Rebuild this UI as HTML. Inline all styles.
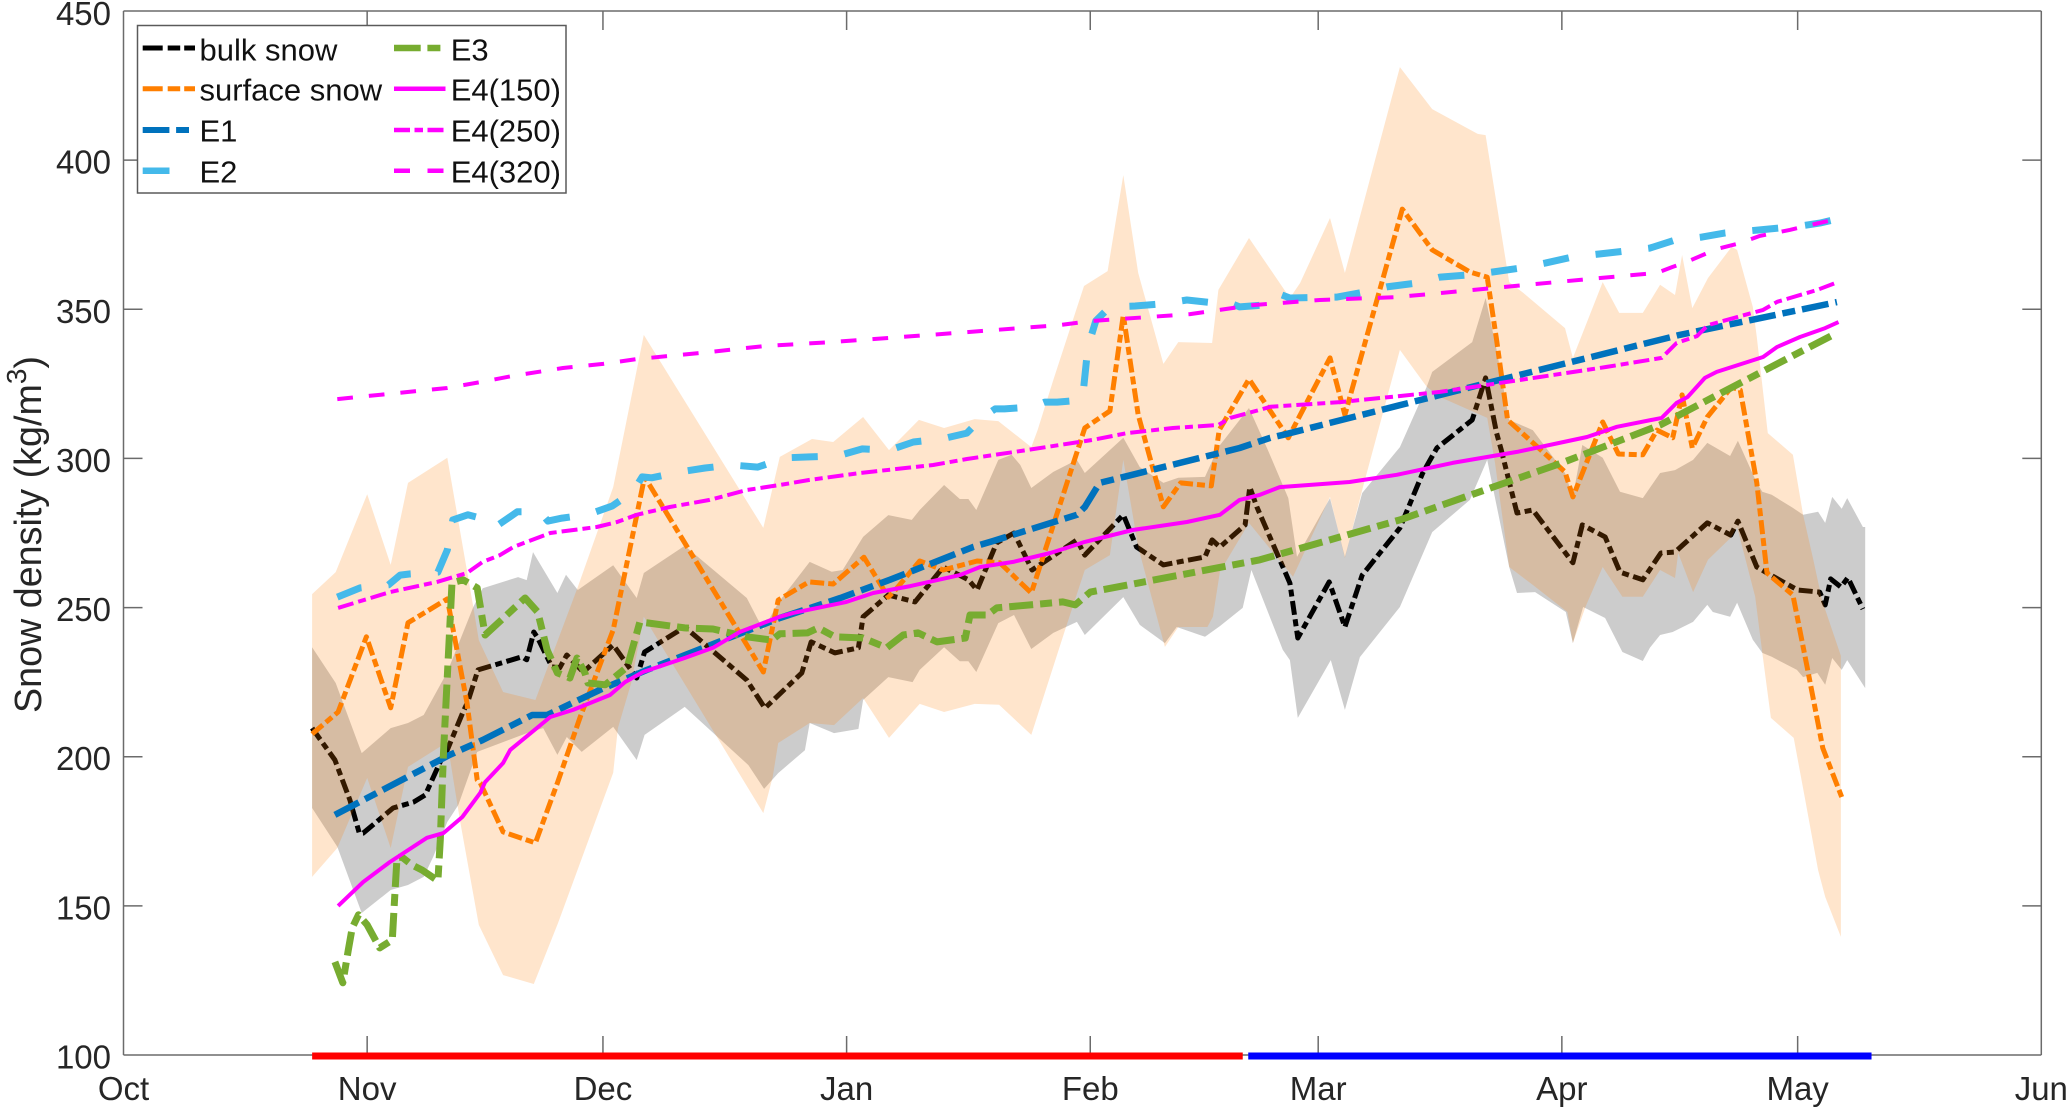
<!DOCTYPE html>
<html lang="en">
<head>
<meta charset="utf-8">
<title>Snow density chart</title>
<style>
html,body{margin:0;padding:0;background:#fff;}
svg{display:block;font-family:"Liberation Sans",Arial,sans-serif;}
</style>
</head>
<body>
<svg id="chart" xmlns="http://www.w3.org/2000/svg" width="2067" height="1109" viewBox="0 0 2067 1109">
  <rect x="0" y="0" width="2067" height="1109" fill="#ffffff"/>
  <g id="bands-lines"></g>
  <g id="axes"></g>
  <text transform="translate(41 713) rotate(-90)" font-size="37.7" fill="#262626">Snow density (kg/m<tspan font-size="28" dy="-15">3</tspan><tspan dy="15">)</tspan></text>
  <g>
    <rect x="137.5" y="25.5" width="428.5" height="167.5" fill="#ffffff" stroke="#5a5a5a" stroke-width="1.5"/>
    <g>
      <line x1="142.7" y1="48" x2="195" y2="48" stroke="#000000" stroke-width="5" stroke-dasharray="20 5 12.5 4 11"/>
      <text x="199.5" y="60.7" font-size="31" fill="#111">bulk snow</text>
    </g>
    <g>
      <line x1="142.7" y1="88.7" x2="195" y2="88.7" stroke="#ff7f00" stroke-width="5" stroke-dasharray="20 5 12.5 4 11"/>
      <text x="199.5" y="100.7" font-size="31" fill="#111">surface snow</text>
    </g>
    <g>
      <line x1="142.7" y1="130" x2="189" y2="130" stroke="#0072bd" stroke-width="6" stroke-dasharray="26.7 6.7 13"/>
      <text x="199.5" y="141.7" font-size="31" fill="#111">E1</text>
    </g>
    <g>
      <line x1="142.7" y1="170.7" x2="169.5" y2="170.7" stroke="#44b9ea" stroke-width="6.5"/>
      <text x="199.5" y="182.3" font-size="31" fill="#111">E2</text>
    </g>
    <g>
      <line x1="394" y1="48" x2="440.5" y2="48" stroke="#77ac30" stroke-width="6.5" stroke-dasharray="26.7 6.7 13"/>
      <text x="450.7" y="60.7" font-size="31" fill="#111">E3</text>
    </g>
    <g>
      <line x1="394" y1="88.7" x2="445.5" y2="88.7" stroke="#ff00ff" stroke-width="4.5"/>
      <text x="450.7" y="100.7" font-size="31" fill="#111">E4(150)</text>
    </g>
    <g>
      <line x1="394" y1="130" x2="444" y2="130" stroke="#ff00ff" stroke-width="4.5" stroke-dasharray="16 4.5 8.5 4.5 16"/>
      <text x="450.7" y="141.7" font-size="31" fill="#111">E4(250)</text>
    </g>
    <g>
      <line x1="394" y1="170.7" x2="444" y2="170.7" stroke="#ff00ff" stroke-width="4.5" stroke-dasharray="16 17.5 16"/>
      <text x="450.7" y="182.3" font-size="31" fill="#111">E4(320)</text>
    </g>
  </g>
</svg>
<script>
// Axis ticks (x values are days since 1 Oct; leap-year winter)
const yTicks = [100,150,200,250,300,350,400,450];
const xTickDays = [0,31,61,92,123,152,183,213,244];
const xTickLabels = ['Oct','Nov','Dec','Jan','Feb','Mar','Apr','May','Jun'];

// Period bars along the x axis [start day, end day]
const periodRedDays = [24.0,142.4];
const periodBlueDays = [143.1,222.4];

// Bulk snow spread (grey band)
const bulkUpperDays = [24.0,27.0,30.3,34.0,36.2,38.2,41.2,44.5,45.7,50.2,51.3,52.1,55.2,56.3,57.8,62.3,65.3,66.2,71.4,79.3,81.4,83.3,87.3,90.1,91.5,94.1,97.3,100.3,101.3,104.4,106.4,107.5,108.5,111.3,113.0,114.1,115.5,118.3,121.3,122.3,127.2,129.3,132.3,134.2,137.6,139.3,143.2,145.6,148.2,149.3,153.5,155.4,157.6,162.4,165.8,166.5,171.6,173.3,174.7,176.3,179.3,183.4,184.4,185.6,188.2,190.4,193.3,195.5,197.4,199.7,201.5,204.4,205.4,207.8,208.5,209.7,212.4,213.7,215.6,216.5,217.4,218.6,219.3,221.3,221.6];
const bulkUpperValues = [236.7,224.7,201.2,209.6,211.3,214.0,228.4,250.2,256.5,260.2,259.2,268.6,254.9,261.0,255.9,264.2,253.2,261.6,270.7,253.2,242.5,251.6,265.3,262.0,262.6,273.7,281.0,279.4,282.7,291.1,286.4,286.4,282.7,299.5,301.2,297.8,290.1,295.5,299.5,295.1,306.9,297.1,291.8,293.5,293.8,303.8,316.9,302.8,286.7,267.0,286.7,267.0,288.4,303.8,324.0,329.0,339.0,353.8,336.4,312.9,309.5,295.1,287.1,304.5,300.2,288.8,286.7,295.1,296.1,299.5,305.2,300.8,305.9,291.8,288.8,287.8,283.4,281.1,282.1,278.4,287.1,283.1,286.7,277.0,277.0];
const bulkLowerDays = [24.0,27.2,30.3,34.0,36.2,38.2,39.4,41.2,42.6,45.0,51.7,53.4,55.2,56.4,58.3,62.3,65.3,66.3,71.4,79.5,81.5,83.3,86.7,87.3,90.4,93.5,94.1,97.3,100.4,101.3,104.4,106.4,107.5,108.5,111.3,113.3,115.5,118.3,121.3,122.3,127.2,129.3,132.5,134.0,137.6,139.5,142.4,143.5,147.5,148.4,149.4,153.6,155.4,157.3,162.4,166.5,171.3,173.5,176.3,177.3,179.6,183.5,184.4,185.7,188.5,190.7,193.3,194.2,195.5,197.1,199.7,201.5,202.2,204.4,205.3,207.3,208.5,209.7,212.9,213.7,215.5,216.5,217.4,218.6,219.3,221.6];
const bulkLowerValues = [182.8,169.8,147.6,155.3,157.0,159.7,166.4,178.1,183.8,201.6,208.3,209.6,200.6,206.6,201.6,210.0,198.9,207.3,216.7,197.2,189.2,194.5,202.2,211.3,207.9,209.3,219.0,226.7,225.0,229.1,236.7,232.0,232.0,228.4,244.8,247.5,236.1,241.5,245.2,240.8,253.5,244.2,238.1,243.5,240.2,243.8,249.9,262.6,235.8,232.4,213.0,232.4,215.7,233.4,250.2,275.3,286.1,299.5,263.6,254.9,255.2,248.5,238.1,250.2,246.5,235.1,232.1,236.5,240.8,241.8,245.2,250.9,248.5,246.9,251.6,239.2,234.8,233.5,229.1,226.7,228.1,224.1,233.1,229.1,232.4,223.0];

// Surface snow spread (orange band)
const surfaceUpperDays = [24.0,27.0,31.0,34.0,36.2,41.2,44.5,45.2,48.3,52.4,57.8,62.3,66.2,81.4,83.5,87.6,90.3,94.1,97.4,101.2,104.4,108.3,111.3,115.5,116.3,118.3,122.2,125.2,127.2,129.1,132.3,134.2,138.5,139.3,143.2,148.4,149.7,153.5,155.4,162.4,166.5,172.3,173.3,176.3,178.1,183.4,184.4,188.2,190.3,193.3,195.5,197.4,198.3,199.6,201.6,204.6,205.3,207.3,207.8,209.2,212.4,213.7,215.0,216.1,218.5];
const surfaceUpperValues = [254.5,261.9,288.0,264.3,291.8,300.2,250.2,239.1,221.7,219.0,256.9,290.4,341.4,276.7,300.5,306.5,305.5,313.9,302.8,312.9,310.2,313.2,312.5,303.8,309.5,326.3,357.8,362.8,395.0,362.2,331.7,339.0,338.7,356.5,373.9,353.8,358.8,380.6,362.2,431.2,417.1,408.8,408.4,359.1,355.5,343.7,333.7,359.1,348.8,348.8,358.2,354.8,368.2,350.4,360.5,370.9,369.9,350.8,340.7,308.5,301.2,281.1,265.9,252.5,233.8];
const surfaceLowerDays = [24.0,27.2,31.0,34.0,36.2,41.2,42.8,45.2,48.3,52.2,55.3,62.3,62.9,64.6,66.2,81.4,82.6,83.3,87.3,90.4,94.1,97.4,101.3,104.4,108.3,111.4,115.5,119.8,122.3,125.5,127.2,129.1,132.5,134.2,137.9,138.6,139.5,143.2,148.8,153.5,155.4,157.6,162.4,165.8,167.5,173.5,174.5,176.3,179.3,183.7,184.4,186.0,188.2,190.7,193.3,195.5,197.4,197.8,199.7,201.6,204.6,205.3,207.6,208.5,209.6,212.5,213.9,215.6,216.5,218.5];
const surfaceLowerValues = [159.7,169.4,192.9,169.4,196.6,204.9,178.8,143.6,126.8,123.8,144.3,194.6,209.6,224.7,246.9,181.1,193.2,204.6,211.3,210.6,219.7,206.3,217.7,215.0,217.7,217.4,207.3,242.5,262.6,267.6,299.5,270.3,236.8,243.5,243.5,246.9,262.0,278.4,260.3,287.1,266.6,289.4,336.4,324.0,320.6,313.6,298.5,263.6,257.6,248.5,238.1,250.2,263.6,253.6,253.6,262.6,259.9,268.3,255.2,266.0,273.7,277.0,253.6,234.8,213.0,206.3,186.5,162.0,153.0,139.6];

// Observed series
const bulkDays = [24.0,26.9,28.8,30.0,30.5,34.3,36.9,38.4,40.7,41.2,43.2,43.8,45.1,50.7,51.3,52.2,52.7,54.5,55.5,56.4,58.5,62.3,65.3,66.3,71.4,79.3,81.6,86.3,87.5,90.5,93.5,94.1,97.3,100.7,104.3,107.5,108.6,111.1,113.3,115.6,121.3,122.3,127.2,128.9,132.3,137.6,138.5,139.5,142.7,143.3,144.2,148.4,149.4,153.4,155.4,157.6,162.4,165.3,167.1,171.6,173.3,174.7,175.3,177.3,179.3,184.4,185.6,188.5,190.4,193.3,195.6,197.4,198.4,201.5,204.5,205.4,207.8,209.1,213.0,215.8,216.5,217.2,218.5,219.4,221.3];
const bulkValues = [209.6,198.9,185.5,174.4,174.4,182.8,184.8,187.2,200.6,202.3,215.0,218.4,229.1,233.5,232.5,241.8,239.8,230.1,229.8,234.1,228.4,237.5,226.4,235.1,243.5,225.7,216.3,228.1,238.5,234.8,236.5,246.9,254.2,251.9,263.6,259.3,255.9,271.7,275.0,262.6,272.7,267.6,281.1,270.3,264.3,267.0,272.7,270.3,277.7,290.4,283.7,258.2,239.8,258.6,243.5,260.9,276.7,295.1,303.5,312.9,327.0,308.5,302.8,281.7,282.7,265.0,277.7,273.7,261.9,259.3,268.3,268.6,271.0,278.4,274.3,279.0,263.6,261.6,255.9,255.2,250.9,259.6,256.9,260.0,249.5];
const surfaceDays = [24.0,27.3,30.9,34.0,36.2,41.2,43.7,45.0,45.4,48.3,52.4,55.2,58.1,62.3,66.3,81.4,83.3,87.2,90.3,94.2,97.3,98.2,101.3,104.3,108.6,111.5,115.5,122.3,125.5,127.2,129.1,132.3,134.5,138.4,139.4,143.2,148.2,153.5,155.4,162.7,166.5,171.3,173.5,174.7,176.1,183.4,184.4,188.2,190.2,193.3,195.1,197.1,198.3,199.6,201.5,204.6,205.7,207.8,209.1,212.4,214.2,216.2,218.6];
const surfaceValues = [207.6,215.0,240.2,216.4,244.9,252.9,218.0,192.2,191.2,174.8,171.1,191.2,213.3,242.5,293.8,228.4,252.5,258.6,257.9,266.9,253.5,255.9,265.6,262.6,265.6,265.0,254.9,310.2,315.9,348.1,314.6,283.8,291.8,290.8,309.5,326.6,306.9,333.7,314.6,383.6,369.9,362.5,360.8,339.7,312.9,295.5,287.1,312.2,301.5,301.2,309.5,306.9,321.3,303.5,313.9,323.9,322.9,291.8,261.6,254.2,230.1,202.9,186.5];

// Model experiments
const e1Days = [26.9,41.5,45.7,52.0,53.9,60.6,66.6,83.5,91.2,97.5,108.1,110.6,121.3,122.3,124.2,142.0,145.9,147.5,173.5,198.0,218.0];
const e1Values = [180.5,200.6,205.6,214.0,214.0,222.4,229.1,246.5,253.2,259.3,270.3,272.3,281.1,283.7,291.8,303.5,306.9,307.9,325.3,341.4,352.4];
const e2Days = [27.2,30.1,33.7,35.2,36.5,40.0,41.2,41.9,43.8,45.4,47.3,50.1,53.0,54.0,55.8,59.0,62.2,64.8,66.0,67.2,70.8,74.0,77.4,80.7,84.2,87.3,90.8,94.0,97.5,100.5,104.1,107.3,109.2,110.9,112.1,115.7,117.2,118.8,122.0,122.7,123.7,125.5,128.7,132.1,135.3,138.9,140.1,142.0,144.9,146.1,147.4,148.4,154.4,157.9,160.7,164.6,167.5,171.1,174.2,177.7,180.9,184.3,187.6,191.0,194.2,197.4,200.8,203.8,208.2,213.3,215.8,218.1];
const e2Values = [253.5,256.6,257.6,260.9,261.3,261.9,269.3,279.4,281.1,280.0,277.0,282.1,282.1,279.0,280.0,281.1,284.1,288.8,293.8,293.5,295.5,296.8,297.8,297.1,300.2,300.5,300.8,303.2,302.8,305.5,306.5,308.5,313.6,316.6,316.6,317.3,318.9,318.9,319.6,337.4,346.1,350.8,351.1,351.8,353.1,352.1,352.8,350.8,351.4,354.8,354.8,353.8,354.1,355.8,357.5,358.8,360.8,361.5,362.5,363.8,365.5,367.5,368.5,369.5,370.5,373.2,374.2,375.6,376.6,377.9,378.9,380.3];
const e3Days = [26.9,27.9,28.6,29.1,29.9,31.0,32.6,34.2,34.5,34.8,35.4,36.7,38.0,40.0,40.3,40.7,41.8,43.2,45.0,46.0,51.1,52.7,53.9,55.2,56.8,57.7,58.7,59.1,61.3,64.1,65.7,71.4,75.0,79.3,82.5,83.5,87.0,88.4,90.5,94.1,97.1,99.2,101.1,103.5,107.1,107.7,109.9,111.1,119.5,121.1,123.0,144.6,162.4,183.0,195.5,205.7,218.0];
const e3Values = [131.2,124.2,135.2,142.6,147.0,143.6,135.9,138.6,153.0,166.1,166.4,163.7,162.0,158.4,172.1,200.6,258.3,259.3,256.6,240.8,253.2,248.5,235.8,228.1,226.4,233.1,228.1,224.7,224.1,230.1,245.2,243.2,242.8,240.2,239.1,241.2,241.5,243.2,240.2,239.8,236.5,240.8,241.5,238.5,239.8,247.5,247.5,249.9,251.9,250.9,255.2,266.0,279.4,298.5,311.2,325.3,342.1];
const e4a150Days = [27.3,30.5,33.9,38.6,40.7,43.1,45.4,46.0,48.3,49.2,54.3,57.2,61.9,63.8,66.1,71.4,75.0,78.4,83.5,85.2,92.0,95.4,100.1,106.4,109.0,113.2,117.9,120.0,122.3,128.4,135.3,139.5,142.0,144.6,147.1,156.0,162.0,169.1,177.3,186.2,190.0,195.7,197.6,199.0,201.2,202.7,208.6,210.4,213.3,216.5,218.2];
const e4a150Values = [150.0,158.0,164.7,172.8,174.4,179.8,187.9,191.5,197.9,202.3,213.3,215.7,220.7,225.0,228.4,233.1,236.5,241.8,246.9,248.2,251.9,254.9,257.2,260.9,263.6,265.3,268.3,270.0,272.0,276.0,278.7,281.1,286.1,287.8,290.4,292.1,294.5,298.5,302.2,307.2,310.6,313.6,318.6,320.6,327.0,329.0,334.0,337.4,340.7,343.7,345.7];
const e4a250Days = [27.3,33.9,39.9,43.7,45.7,47.9,49.6,54.3,60.2,62.8,65.3,69.5,74.6,79.3,83.5,87.3,93.7,103.0,107.3,114.9,123.3,127.7,133.5,139.3,140.8,144.6,145.9,154.8,167.5,180.2,188.7,195.7,197.6,200.2,201.6,208.6,210.4,215.5,218.2];
const e4a250Values = [249.9,255.2,258.6,261.6,265.3,267.6,270.3,275.0,277.0,278.7,281.1,283.7,286.1,289.4,291.1,292.8,295.1,297.8,299.8,302.8,306.2,308.5,310.2,311.2,313.6,316.3,317.3,318.9,322.3,327.3,330.7,333.7,338.7,341.0,344.7,349.8,352.5,356.5,359.2];
const e4a320Days = [27.2,41.2,45.4,49.4,55.9,61.0,65.3,73.6,81.6,90.1,102.6,119.1,123.3,127.2,135.7,143.7,152.2,162.0,174.2,186.6,195.1,197.1,198.9,202.7,205.7,208.2,212.0,215.2,218.1];
const e4a320Values = [319.9,323.6,325.6,327.6,330.3,331.7,333.3,335.4,337.7,339.0,341.4,344.7,346.1,346.8,348.4,351.4,353.1,354.1,357.1,360.2,362.2,364.2,365.9,370.2,372.2,374.6,376.6,378.6,380.3];

const NS = 'http://www.w3.org/2000/svg';
const plotLeft = 123.5, plotRight = 2041.3, plotTop = 11, plotBottom = 1055;
const xMax = 244, yMin = 100, yMax = 450;
function xScale(d){ return plotLeft + d * (plotRight - plotLeft) / xMax; }
function yScale(v){ return plotBottom - (v - yMin) * (plotBottom - plotTop) / (yMax - yMin); }

const plotLayer = document.getElementById('bands-lines');
const axesLayer = document.getElementById('axes');

function coords(days, values){
  return days.map(function(d, i){ return xScale(d).toFixed(1) + ',' + yScale(values[i]).toFixed(1); });
}
function drawBand(name, upDays, upValues, lowDays, lowValues, color, alpha){
  const el = document.createElementNS(NS, 'polygon');
  
  
  const pts = coords(upDays, upValues).concat(coords(lowDays, lowValues).reverse());
  el.setAttribute('points', pts.join(' '));
  el.setAttribute('fill', color);
  el.setAttribute('fill-opacity', alpha);
  plotLayer.appendChild(el);
}
function drawLine(name, days, values, color, width, dash){
  const el = document.createElementNS(NS, 'polyline');
  
  
  el.setAttribute('points', coords(days, values).join(' '));
  el.setAttribute('fill', 'none');
  el.setAttribute('stroke', color);
  el.setAttribute('stroke-width', width);
  el.setAttribute('stroke-linejoin', 'round');
  if (dash) el.setAttribute('stroke-dasharray', dash);
  plotLayer.appendChild(el);
}
function axisLine(name, x1, y1, x2, y2, color, width){
  const el = document.createElementNS(NS, 'line');
  
  
  el.setAttribute('x1', x1);
  el.setAttribute('y1', y1);
  el.setAttribute('x2', x2);
  el.setAttribute('y2', y2);
  el.setAttribute('stroke', color);
  el.setAttribute('stroke-width', width);
  axesLayer.appendChild(el);
}
function axisLabel(name, x, y, anchor, str){
  const el = document.createElementNS(NS, 'text');
  
  
  el.setAttribute('x', x);
  el.setAttribute('y', y);
  el.setAttribute('text-anchor', anchor);
  el.setAttribute('font-size', '33');
  el.setAttribute('fill', '#262626');
  el.textContent = str;
  axesLayer.appendChild(el);
}

drawBand('bulk-snow-band', bulkUpperDays, bulkUpperValues, bulkLowerDays, bulkLowerValues, '#000000', 0.2);
drawLine('bulk-snow-line', bulkDays, bulkValues, '#000000', 5, '14 4.5 7 4.5');
drawBand('surface-snow-band', surfaceUpperDays, surfaceUpperValues, surfaceLowerDays, surfaceLowerValues, '#ff7f00', 0.2);
drawLine('surface-snow-line', surfaceDays, surfaceValues, '#ff7f00', 5, '14 4 8 4');
drawLine('e1-line', e1Days, e1Values, '#0072bd', 6.5, '27 7 13 7');
drawLine('e2-line', e2Days, e2Values, '#44b9ea', 7, '26 27');
drawLine('e3-line', e3Days, e3Values, '#77ac30', 7, '24 7 12 7');
drawLine('e4-150-line', e4a150Days, e4a150Values, '#ff00ff', 4, '');
drawLine('e4-250-line', e4a250Days, e4a250Values, '#ff00ff', 4, '16 5 8 5');
drawLine('e4-320-line', e4a320Days, e4a320Values, '#ff00ff', 4, '15.7 16');

const axisColor = '#6b6b6b';
axisLine('axis-left', plotLeft, plotTop, plotLeft, plotBottom, axisColor, 1.5);
axisLine('axis-right', plotRight, plotTop, plotRight, plotBottom, axisColor, 1.5);
axisLine('axis-top', plotLeft, plotTop, plotRight, plotTop, axisColor, 1.5);
axisLine('axis-bottom', plotLeft, plotBottom, plotRight, plotBottom, axisColor, 1.5);

yTicks.forEach(function(t){
  const py = yScale(t);
  if (t > yMin && t < yMax) {
    axisLine('y-tick-left', plotLeft, py, plotLeft + 19, py, axisColor, 1.5);
    axisLine('y-tick-right', plotRight, py, plotRight - 19, py, axisColor, 1.5);
  }
  axisLabel('y-tick-label', 111, py + (t === yMax ? 14 : 13.5), 'end', String(t));
});
xTickDays.forEach(function(d, i){
  const px = xScale(d);
  if (i > 0 && i < xTickDays.length - 1) {
    axisLine('x-tick-bottom', px, plotBottom, px, plotBottom - 19, axisColor, 1.5);
    axisLine('x-tick-top', px, plotTop, px, plotTop + 19, axisColor, 1.5);
  }
  axisLabel('x-tick-label', px, 1100, 'middle', xTickLabels[i]);
});

axisLine('period-bar-red', xScale(periodRedDays[0]), 1056, xScale(periodRedDays[1]), 1056, '#ff0000', 7);
axisLine('period-bar-blue', xScale(periodBlueDays[0]), 1056, xScale(periodBlueDays[1]), 1056, '#0000ff', 7);
</script>
</body>
</html>
